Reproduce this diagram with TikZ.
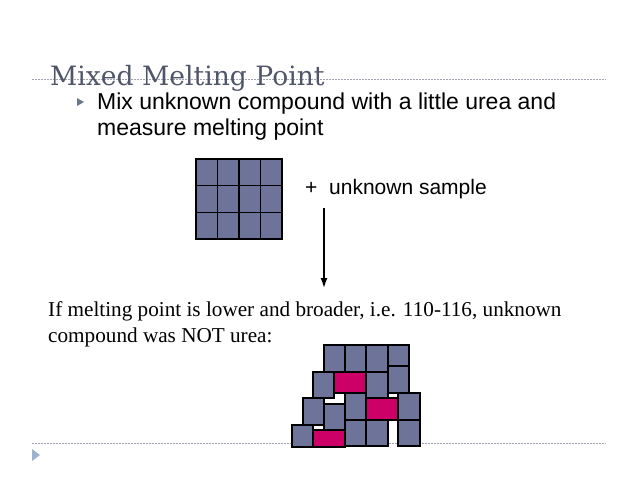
\documentclass[tikz,border=0pt]{standalone}
\usepackage{fontspec}
\setmainfont{Liberation Serif}
\setsansfont{Liberation Sans}
\newfontfamily\titlefont{DejaVu Serif}
\usetikzlibrary{arrows.meta,positioning,calc}
\definecolor{slidegray}{HTML}{50566A}
\definecolor{rulegray}{HTML}{9EA4AE}
\definecolor{cellblue}{HTML}{6D7399}
\definecolor{cellpink}{HTML}{CC0066}
\definecolor{bulletblue}{HTML}{9DB2CE}
\definecolor{bulletdark}{HTML}{6B778E}
\tikzset{
  cellbox/.style={draw=black,line width=1.1pt,fill=cellblue},
  hotbox/.style={draw=black,line width=1.1pt,fill=cellpink},
  slideline/.style={draw=rulegray,dash pattern=on 1.6pt off 1.4pt,line width=0.7pt},
  titletext/.style={font=\titlefont\fontsize{26.6}{30}\selectfont,text=slidegray,anchor=base west,inner sep=0pt},
  bodytext/.style={font=\sffamily\fontsize{23}{26}\selectfont,anchor=base west,inner sep=0pt},
  sampletext/.style={font=\sffamily\fontsize{21}{24}\selectfont,anchor=base west,inner sep=0pt},
  resulttext/.style={font=\fontsize{21.2}{24}\selectfont,anchor=base west,inner sep=0pt},
  mixarrow/.style={-{Latex[length=10pt,width=7pt]},line width=1.4pt}
}
\begin{document}
\begin{tikzpicture}[x=1pt,y=-1pt]
\useasboundingbox[fill=white] (0,0) rectangle (638,479);
% slide frame
\draw[slideline] (32,79) -- (606,79);
\draw[slideline] (32,443) -- (606,443);
\fill[bulletblue] (32,449) -- (40,455) -- (32,461) -- cycle;
\node[titletext] (title) at (50,85) {Mixed Melting Point};
% bullet
\fill[bulletdark] (77,98) -- (84,102) -- (77,106) -- cycle;
\node[bodytext] (mixa) at (97,109.5) {Mix unknown compound with a little urea and};
\node[bodytext] (mixb) at (97,135.5) {measure melting point};
% urea crystal
\foreach \c in {0,...,3}{
  \foreach \r in {0,1,2}{
    \draw[cellbox] ({196+21.5*\c},{159+26.67*\r}) rectangle ++(21.5,26.67);
  }
}
\node[sampletext] (plus) at (305,194) {+};
\node[sampletext] (sample) at (329,194) {unknown sample};
\coordinate (arrtop) at (324,208);
\coordinate (arrbot) at (324,288);
\draw[mixarrow] (arrtop) -- (arrbot);
% result
\node[resulttext] (resa) at (48,316) {If melting point is lower and broader, i.e. 110-116, unknown};
\node[resulttext] (resb) at (48,342) {compound was NOT urea:};
% disturbed crystal
\foreach \xa/\ya/\xb/\yb in {324/345/345/372,345/345/366/372,366/345/388/372,388/345/409/366,
  388/366/409/393,313/372/334/398,366/372/388/398,303/398/324/425,324/404/345/430,
  345/393/366/420,345/420/366/446,366/420/388/446,398/393/420/420,398/420/420/446,292/425/313/447}{
  \draw[cellbox] (\xa,\ya) rectangle (\xb,\yb);
}
\foreach \xa/\ya/\xb/\yb in {334/372/366/393,366/398/398/420,313/430/345/447}{
  \draw[hotbox] (\xa,\ya) rectangle (\xb,\yb);
}
\end{tikzpicture}
\end{document}
